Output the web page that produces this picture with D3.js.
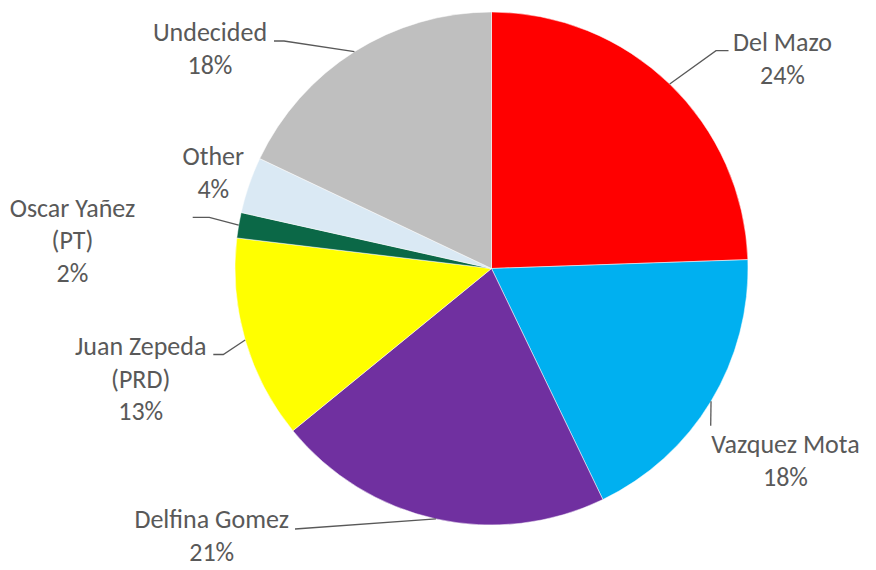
<!DOCTYPE html>
<html>
<head>
<meta charset="utf-8">
<script src="https://cdn.jsdelivr.net/npm/d3@7"></script>
<style>
  html, body { margin: 0; padding: 0; background: #fff; }
  svg { display: block; }
  text { font-family: Carlito, Calibri, Lato, "Open Sans", sans-serif; fill: #595959; }
</style>
</head>
<body>
<svg id="chart" width="876" height="570"></svg>
<script>
// Poll shares, clockwise from 12 o'clock
const candidates = ["Del Mazo", "Vazquez Mota", "Delfina Gomez", "Juan Zepeda", "Oscar Yañez", "Other", "Undecided"];
const labelLines = [["Del Mazo"], ["Vazquez Mota"], ["Delfina Gomez"], ["Juan Zepeda", "(PRD)"], ["Oscar Yañez", "(PT)"], ["Other"], ["Undecided"]];
const shares = [24.45, 18.4, 21.25, 12.8, 1.6, 3.55, 17.95];
const colors = ["#FF0000", "#00B0F0", "#7030A0", "#FFFF00", "#0B6847", "#DAE9F4", "#BFBFBF"];

// Label placement: text centre x, first baseline y, and leader-line bend points (after the slice edge)
const labelLayout = [
  { x: 782.5, y: 51,    leader: [[716, 50.7], [728.5, 50.7]] },
  { x: 785.5, y: 453.3, leader: [[710.7, 425.7]] },
  { x: 211.7, y: 528.3, leader: [[295, 529]] },
  { x: 140.7, y: 355,   leader: [[223.3, 354.5], [213.3, 354.5]] },
  { x: 72.5,  y: 216.7, leader: [[209.3, 217.3], [192.7, 217.3]] },
  { x: 213.3, y: 165,   leader: null },
  { x: 210,   y: 41.3,  leader: [[284, 41], [274, 41]] }
];

const cx = 491.5, cy = 268.5, radius = 256.5;
const lineStep = 32.5;
const fontSize = 26;

const svg = d3.select("#chart");
const g = svg.append("g").attr("transform", `translate(${cx},${cy})`);

const total = d3.sum(shares);
const pct = d3.format(".0%");

const pie = d3.pie().sort(null).value(d => d)(shares);
const arc = d3.arc().innerRadius(0).outerRadius(radius);
const edge = d3.arc().innerRadius(radius).outerRadius(radius);

g.selectAll("path.slice")
  .data(pie)
  .join("path")
  .attr("class", "slice")
  .attr("d", arc)
  .attr("fill", (d, i) => colors[i])
  .attr("stroke", "#ffffff")
  .attr("stroke-width", 0.5);

// Leader lines from the slice's outer mid-point to the label
const line = d3.line();
pie.forEach((d, i) => {
  const lay = labelLayout[i];
  if (!lay.leader) return;
  const [ex, ey] = edge.centroid(d);
  const pts = [[cx + ex, cy + ey], ...lay.leader];
  svg.append("path")
    .attr("d", line(pts))
    .attr("fill", "none")
    .attr("stroke", "#595959")
    .attr("stroke-width", 1.3);
});

// Labels: name lines followed by the percentage
pie.forEach((d, i) => {
  const lay = labelLayout[i];
  const lines = labelLines[i].concat([pct(shares[i] / total)]);
  const t = svg.append("text")
    .attr("text-anchor", "middle")
    .attr("font-size", fontSize);
  lines.forEach((s, k) => {
    t.append("tspan")
      .attr("x", lay.x)
      .attr("y", lay.y + k * lineStep)
      .text(s);
  });
});
</script>
</body>
</html>
